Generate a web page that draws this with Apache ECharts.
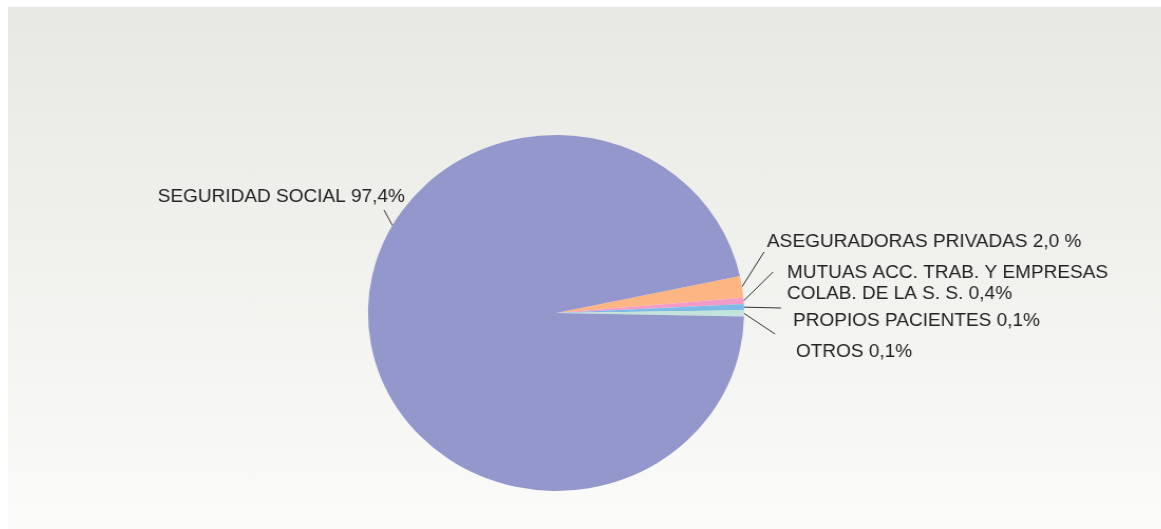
<!DOCTYPE html>
<html>
<head>
<meta charset="utf-8">
<script src="https://cdn.jsdelivr.net/npm/echarts@6/dist/echarts.min.js"></script>
<style>
  html, body { margin: 0; padding: 0; background: #ffffff; }
  #wrap { position: relative; width: 1161px; height: 529px; background: #ffffff; overflow: hidden; }
  #panel { position: absolute; left: 8px; top: 7px; width: 1153px; height: 522px; overflow: hidden;
           background: linear-gradient(to bottom, #e8e8e3 0%, #f1f1ee 50%, #fbfbf9 100%); }
  #chart { position: absolute; left: 0; top: 0; width: 1092px; height: 522px;
           transform: scaleX(1.0562); transform-origin: 0 0; }
</style>
</head>
<body>
<div id="wrap"><div id="panel"><div id="chart"></div></div></div>
<script>
// ---- data ----
var categories = [
  'ASEGURADORAS PRIVADAS',
  'MUTUAS ACC. TRAB. Y EMPRESAS\nCOLAB. DE LA S. S.',
  'PROPIOS PACIENTES',
  'OTROS',
  'SEGURIDAD SOCIAL'
];
var values = [2.0, 0.4, 0.1, 0.1, 97.4];
var valueLabels = ['2,0 %', '0,4%', '0,1%', '0,1%', '97,4%'];
var colors = ['#fcb583', '#f29bc9', '#7dbbe6', '#c2e4da', '#9497cc'];

// ---- layout (panel pixel coords, before horizontal stretch) ----
var SX = 1.0562;
var CENTER = [548 / SX, 306];
var RADIUS = 178;
var labelPos = [
  { x: 759, y: 235, align: 'left',  end: [756, 245] },
  { x: 779, y: 277, align: 'left',  end: [765, 265] },
  { x: 785, y: 314, align: 'left',  end: [773, 301] },
  { x: 788, y: 345, align: 'left',  end: [767, 327] },
  { x: 397, y: 190, align: 'right', end: [376, 203], startAngle: 150.5 }
];

var chart = echarts.init(document.getElementById('chart'), null, { renderer: 'canvas' });

var seriesData = categories.map(function (c, i) {
  return { name: c, value: values[i], itemStyle: { color: colors[i] } };
});

chart.setOption({
  backgroundColor: 'transparent',
  animation: false,
  series: [{
    type: 'pie',
    center: CENTER,
    radius: [0, RADIUS],
    startAngle: 12,
    clockwise: true,
    minAngle: 2,
    avoidLabelOverlap: false,
    silent: true,
    data: seriesData,
    itemStyle: { borderWidth: 0 },
    label: {
      show: true,
      position: 'outside',
      formatter: function (p) { return categories[p.dataIndex] + ' ' + valueLabels[p.dataIndex]; },
      fontFamily: 'Liberation Sans, Arial, sans-serif',
      fontSize: 18,
      lineHeight: 21,
      color: '#222222'
    },
    labelLine: {
      show: true,
      length: 20,
      length2: 0,
      lineStyle: { color: '#333333', width: 1 }
    },
    labelLayout: function (params) {
      var lp = labelPos[params.dataIndex];
      var end = [lp.end[0] / SX, lp.end[1]];
      var start;
      if (lp.startAngle !== undefined) {
        var a = lp.startAngle * Math.PI / 180;
        start = [CENTER[0] + RADIUS * Math.cos(a), CENTER[1] - RADIUS * Math.sin(a)];
      } else if (params.labelLinePoints && params.labelLinePoints.length) {
        start = params.labelLinePoints[0];
      } else {
        start = end;
      }
      return {
        x: lp.x / SX,
        y: lp.y,
        align: lp.align,
        verticalAlign: 'middle',
        labelLinePoints: [start, end, end]
      };
    }
  }]
});
</script>
</body>
</html>
